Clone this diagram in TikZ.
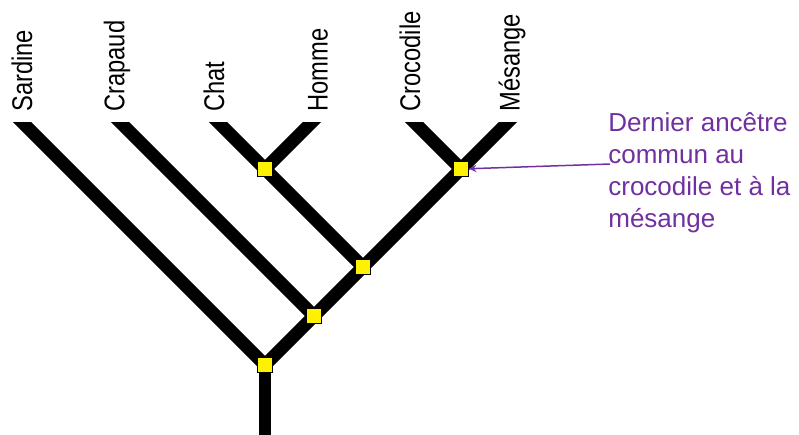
\documentclass[tikz,border=0pt]{standalone}
\usepackage{fontspec}
\setmainfont{Liberation Sans}
\usepackage{tikz}
\usetikzlibrary{positioning, backgrounds}
\definecolor{notepurple}{HTML}{7030A0}
\tikzset{branch/.style={line width=0.26cm, line cap=butt}, ancestor/.style={rectangle, draw=black, fill=yellow, line width=0.6pt, inner sep=0pt, minimum size=0.3cm}}
\tikzset{taxon/.style={rotate=90, yscale=1.2, anchor=west, inner sep=0pt, font=\fontsize{13.5}{16}\selectfont}, note/.style={anchor=north west, align=left, inner sep=0pt, text=notepurple, font=\fontsize{14.8}{18.2}\selectfont}, noteline/.style={draw=notepurple, line width=0.85pt, ->, >=stealth}}

\begin{document}
\begin{tikzpicture}[x=0.02cm, y=-0.02cm]
                 \useasboundingbox (0,0) rectangle (799,434);
                 \node[ancestor] (root) at (265,365) {};
                 \node[ancestor] (n3) at (314,316) {};
                 \node[ancestor] (n2) at (363,267) {};
                 \node[ancestor] (n1) at (265,169) {};
                 \node[ancestor] (ncroc) at (461,169) {};
%                 leaf ends, cut at y=122
                 \coordinate (sardine) at (12,112);
                 \coordinate (crapaud) at (110,112);
                 \coordinate (chat) at (208,112);
                 \coordinate (homme) at (322,112);
                 \coordinate (crocodile) at (404,112);
                 \coordinate (mesange) at (518,112);
                 \coordinate (base) at (265,440);
                 \begin{scope}[on background layer]
                 \clip (0,122) rectangle (799,440);
                 \draw[branch] (sardine) -- (root.center);
                 \draw[branch] (root.center) -- (base);
                 \draw[branch] (root.center) -- (n3.center);
                 \draw[branch] (crapaud) -- (n3.center);
                 \draw[branch] (n3.center) -- (n2.center);
                 \draw[branch] (n2.center) -- (n1.center);
                 \draw[branch] (chat) -- (n1.center);
                 \draw[branch] (homme) -- (n1.center);
                 \draw[branch] (n2.center) -- (ncroc.center);
                 \draw[branch] (crocodile) -- (ncroc.center);
                 \draw[branch] (mesange) -- (ncroc.center);
                 \end{scope}
                 \node[taxon] (sardineL) at (22,112) {Sardine};
                 \node[taxon] (crapaudL) at (117,112) {Crapaud};
                 \node[taxon] (chatL) at (214,112) {Chat};
                 \node[taxon] (hommeL) at (318,112) {Homme};
                 \node[taxon] (crocodileL) at (410,112) {Crocodile};
                 \node[taxon] (mesangeL) at (512,112) {Mésange};

                 \node[note] (noteText) at (608,112) {Dernier ancêtre\\commun au\\crocodile et à la\\mésange};
                 \coordinate (noteStart) at (610,164);
                 \draw[noteline] (noteStart) -- (ncroc);
\end{tikzpicture}
\end{document}
